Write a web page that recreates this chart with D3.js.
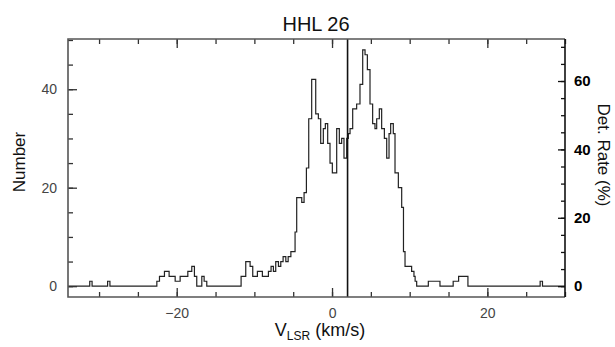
<!DOCTYPE html>
<html>
<head>
<meta charset="utf-8">
<script src="https://cdn.jsdelivr.net/npm/d3@7"></script>
<style>
  body { margin: 0; background: #fff; }
  text { font-family: "Liberation Sans", Arial, sans-serif; }
</style>
</head>
<body>
<svg id="chart" width="615" height="347"></svg>
<script>
// Histogram steps: each velocity is where a new count level starts
const stepVel = [-34, -31.2, -30.9, -28.9, -28.6, -22.56, -22.22, -21.58, -20.98, -20.2,
  -19.56, -18.57, -18.06, -17.72, -17.42, -16.77, -16.47, -16.13, -11.71, -11.11,
  -10.55, -10.21, -9.61, -8.97, -8.19, -7.85, -7.55, -7.25, -6.9, -6.6,
  -6.3, -5.95, -5.65, -5.3, -4.76, -4.55, -3.9, -3.6, -3.3, -3.0,
  -2.62, -2.1, -1.76, -1.46, -1.12, -0.86, -0.56, -0.26, 0.04, 0.6,
  0.94, 1.24, 1.54, 1.89, 2.1, 2.32, 2.66, 3.17, 3.6, 3.95,
  4.25, 4.55, 4.89, 5.23, 5.53, 5.75, 6.09, 6.39, 6.74, 7.04,
  7.34, 7.55, 7.89, 8.11, 8.54, 8.97, 9.2, 9.4, 10.25, 10.55,
  10.7, 10.9, 12.4, 13.9, 15.6, 16.3, 17.5, 26.8, 27.1, 30];
const stepCount = [0, 1, 0, 1, 0, 1, 2, 3, 2, 1,
  2, 3, 4, 2, 0, 2, 1, 0, 2, 5,
  4, 2, 3, 2, 3, 4, 3, 5, 4, 5,
  6, 5, 6, 7, 11, 18, 17, 19, 24, 34,
  42, 35, 34, 29, 32, 33, 29, 25, 23, 32,
  29, 30, 26, 30, 31, 32, 36, 37, 41, 48,
  47, 44, 37, 33, 32, 34, 36, 32, 30, 26,
  31, 33, 31, 23, 20, 16, 7, 4, 3, 2,
  1, 0, 1, 0, 1, 2, 0, 1, 0, 0];

const systemicVel = 2.0;
const xTicksMajor = [-20, 0, 20];
const yTicksLeft = [0, 20, 40];
const yTicksRight = [0, 20, 40, 60];
const rateFactor = 1.44; // % per count

const svg = d3.select('#chart');
const pLeft = 68, pRight = 565, pTop = 39, pBottom = 297;

let x = d3.scaleLinear().domain([-34, 30]).range([pLeft, pRight]);
let y = d3.scaleLinear().domain([-2.2, 50.2]).range([pBottom, pTop]);
let yR = d3.scaleLinear().domain([-2.2 * rateFactor, 50.2 * rateFactor]).range([pBottom, pTop]);

svg.append('rect').attr('width', 615).attr('height', 347).attr('fill', '#fff');

// histogram
let pts = stepVel.map((v, i) => [v, stepCount[i]]);
svg.append('path')
  .datum(pts)
  .attr('fill', 'none')
  .attr('stroke', '#222')
  .attr('stroke-width', 1.2)
  .attr('d', d3.line().x(d => x(d[0])).y(d => y(d[1])).curve(d3.curveStepAfter));

// systemic velocity line
svg.append('line')
  .attr('x1', x(systemicVel)).attr('x2', x(systemicVel))
  .attr('y1', pTop).attr('y2', pBottom)
  .attr('stroke', '#111').attr('stroke-width', 1.6);

// axes (ticks point inward)
function styleAxis(g, col) {
  g.select('.domain').remove();
  g.selectAll('line').attr('stroke', col).attr('stroke-width', 1.3);
}
let minorX = d3.range(-30, 31, 5);
svg.append('g').attr('transform', `translate(0,${pBottom})`)
  .call(d3.axisBottom(x).tickValues(minorX).tickSize(-5).tickFormat(''))
  .call(g => styleAxis(g, '#333'));
svg.append('g').attr('transform', `translate(0,${pBottom})`)
  .call(d3.axisBottom(x).tickValues(xTicksMajor).tickSize(-9).tickPadding(11)
    .tickFormat(d => d < 0 ? '\u2212' + Math.abs(d) : d))
  .call(g => styleAxis(g, '#333'))
  .call(g => g.selectAll('text').attr('font-size', 14).attr('fill', '#444'));
svg.append('g').attr('transform', `translate(0,${pTop})`)
  .call(d3.axisTop(x).tickValues(minorX).tickSize(-5).tickFormat(''))
  .call(g => styleAxis(g, '#333'));
svg.append('g').attr('transform', `translate(0,${pTop})`)
  .call(d3.axisTop(x).tickValues(xTicksMajor).tickSize(-9).tickFormat(''))
  .call(g => styleAxis(g, '#333'));

svg.append('g').attr('transform', `translate(${pLeft},0)`)
  .call(d3.axisLeft(y).tickValues(d3.range(0, 51, 5)).tickSize(-5).tickFormat(''))
  .call(g => styleAxis(g, '#333'));
svg.append('g').attr('transform', `translate(${pLeft},0)`)
  .call(d3.axisLeft(y).tickValues(yTicksLeft).tickSize(-9).tickPadding(11))
  .call(g => styleAxis(g, '#333'))
  .call(g => g.selectAll('text').attr('font-size', 14).attr('fill', '#444'));

svg.append('g').attr('transform', `translate(${pRight},0)`)
  .call(d3.axisRight(yR).tickValues(d3.range(0, 71, 5)).tickSize(-4).tickFormat(''))
  .call(g => styleAxis(g, '#111'));
svg.append('g').attr('transform', `translate(${pRight},0)`)
  .call(d3.axisRight(yR).tickValues(yTicksRight).tickSize(-7).tickPadding(9))
  .call(g => styleAxis(g, '#111'))
  .call(g => g.selectAll('text').attr('font-size', 15).attr('font-weight', 'bold').attr('fill', '#000'));

// frame
svg.append('path')
  .attr('d', `M${pRight},${pTop}H${pLeft}V${pBottom}H${pRight}`)
  .attr('fill', 'none').attr('stroke', '#555').attr('stroke-width', 1.6);
svg.append('line')
  .attr('x1', pRight).attr('x2', pRight).attr('y1', pTop).attr('y2', pBottom)
  .attr('stroke', '#111').attr('stroke-width', 1.6);

// titles
svg.append('text').attr('x', 316).attr('y', 31).attr('text-anchor', 'middle')
  .attr('font-size', 20).attr('fill', '#111').text('HHL 26');

let xl = svg.append('text').attr('x', 320).attr('y', 336).attr('text-anchor', 'middle')
  .attr('font-size', 18).attr('fill', '#111');
xl.append('tspan').text('V');
xl.append('tspan').attr('font-size', 12).attr('dy', 4).text('LSR');
xl.append('tspan').attr('dy', -4).text(' (km/s)');

svg.append('text').attr('transform', 'translate(25,162) rotate(-90)')
  .attr('text-anchor', 'middle').attr('font-size', 17).attr('fill', '#111').text('Number');

svg.append('text').attr('transform', 'translate(598,155) rotate(90)')
  .attr('text-anchor', 'middle').attr('font-size', 17).attr('fill', '#111').text('Det. Rate (%)');
</script>
</body>
</html>
